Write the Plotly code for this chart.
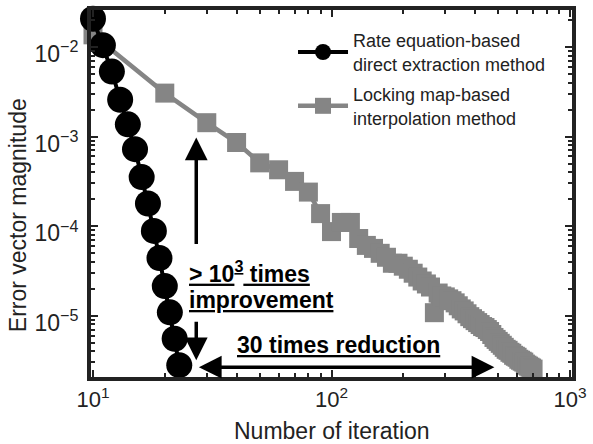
import plotly.graph_objects as go

# ---- data ----
iter_direct = [10, 11, 12, 13, 14, 15, 16, 17, 18, 19, 20, 21, 22, 23]
evm_direct = [2.07e-2, 1.05e-2, 5.32e-3, 2.58e-3, 1.37e-3, 7.24e-4, 3.53e-4,
              1.79e-4, 8.85e-5, 4.41e-5, 2.14e-5, 1.09e-5, 5.52e-6, 2.80e-6]

iter_interp = [10, 20, 30, 40, 50, 60, 70, 80, 90, 100,
               110, 120, 130, 140, 150, 160, 170, 180, 190, 200,
               210, 220, 230, 240, 250, 260, 270, 280, 290, 300,
               310, 320, 330, 340, 350, 360, 370, 380, 390, 400,
               410, 420, 430, 440, 450, 460, 470, 480, 490, 500,
               510, 520, 530, 540, 550, 560, 570, 580, 590, 600,
               610, 620, 630, 640, 650, 660, 670, 680, 690, 700]
evm_interp = [1.37e-2, 3.06e-3, 1.43e-3, 8.59e-4, 5.09e-4, 4.26e-4, 3.16e-4, 2.40e-4, 1.38e-4, 8.69e-5,
              1.10e-4, 1.10e-4, 7.28e-5, 6.09e-5, 5.64e-5, 4.97e-5, 4.49e-5, 3.85e-5, 3.85e-5, 3.57e-5,
              3.30e-5, 2.98e-5, 2.70e-5, 2.44e-5, 2.26e-5, 2.09e-5, 1.08e-5, 1.79e-5, 1.66e-5, 1.62e-5,
              1.54e-5, 1.47e-5, 1.39e-5, 1.29e-5, 1.19e-5, 1.13e-5, 1.05e-5, 9.75e-6, 9.26e-6, 8.80e-6,
              8.37e-6, 7.96e-6, 7.56e-6, 7.37e-6, 7.00e-6, 6.65e-6, 6.16e-6, 5.71e-6, 5.43e-6, 5.16e-6,
              4.91e-6, 4.67e-6, 4.43e-6, 4.21e-6, 4.10e-6, 3.90e-6, 3.80e-6, 3.61e-6, 3.52e-6, 3.43e-6,
              3.26e-6, 3.18e-6, 3.10e-6, 3.03e-6, 2.88e-6, 2.80e-6, 2.73e-6, 2.66e-6, 2.60e-6, 2.53e-6]

name_direct = "Rate equation-based<br>direct extraction method"
name_interp = "Locking map-based<br>interpolation method"

x_tickvals = [10, 100, 1000]
x_ticktext = ["10<sup>1</sup>", "10<sup>2</sup>", "10<sup>3</sup>"]
y_tickvals = [1e-5, 1e-4, 1e-3, 1e-2]
y_ticktext = ["10<sup>\u22125</sup>", "10<sup>\u22124</sup>", "10<sup>\u22123</sup>", "10<sup>\u22122</sup>"]
x_minor = [m * d for d in [1, 10, 100] for m in range(2, 10)]
y_minor = [m * d for d in [1e-6, 1e-5, 1e-4, 1e-3, 1e-2] for m in range(2, 10)]

FONT = "Arial, 'Liberation Sans', sans-serif"
TXT = "#222222"
GRAY = "#858585"

fig = go.Figure()
fig.add_trace(go.Scatter(
    x=iter_interp, y=evm_interp, name=name_interp, mode="lines+markers",
    line=dict(color=GRAY, width=4.5),
    marker=dict(symbol="square", size=19, color=GRAY),
    cliponaxis=False, legendrank=2, legendgroup="b"))
fig.add_trace(go.Scatter(
    x=iter_direct, y=evm_direct, name=name_direct, mode="lines+markers",
    line=dict(color="black", width=4),
    marker=dict(symbol="circle", size=26, color="black"),
    cliponaxis=False, legendrank=1, legendgroup="a"))

axis_common = dict(
    type="log", showline=True, linewidth=4, linecolor=TXT, mirror="ticks",
    ticks="inside", ticklen=7, tickwidth=2, tickcolor=TXT,
    showgrid=False, zeroline=False,
    tickmode="array",
)
fig.update_xaxes(**axis_common, range=[1 - 2 / 240, 3 + 2 / 240],
                 tickvals=x_tickvals, ticktext=x_ticktext,
                 tickfont=dict(family=FONT, size=22, color=TXT),
                 minor=dict(tickmode="array", tickvals=x_minor, ticks="inside",
                            ticklen=4, tickwidth=1.5, tickcolor=TXT, showgrid=False))
fig.update_yaxes(**axis_common, range=[-5.685, -1.586],
                 tickvals=y_tickvals, ticktext=y_ticktext,
                 tickfont=dict(family=FONT, size=23, color=TXT),
                 ticklabelshift=7, ticklabelstandoff=4,
                 minor=dict(tickmode="array", tickvals=y_minor, ticks="inside",
                            ticklen=4, tickwidth=1.5, tickcolor=TXT, showgrid=False))

ann = []
# axis titles
ann.append(dict(text="Error vector magnitude", xref="paper", yref="paper",
                x=-0.153, y=0.442, textangle=-90, showarrow=False,
                font=dict(family=FONT, size=23, color=TXT),
                xanchor="center", yanchor="middle"))
ann.append(dict(text="Number of iteration", xref="paper", yref="paper",
                x=0.5, y=-0.148, showarrow=False,
                font=dict(family=FONT, size=23, color=TXT),
                xanchor="center", yanchor="middle"))
# arrows
ann.append(dict(x=1.433, y=-3.011, xref="x", yref="y", text="", showarrow=True,
                ax=0, ay=108, arrowhead=2, arrowsize=1.3, arrowwidth=3.5, arrowcolor="black"))
ann.append(dict(x=1.433, y=-5.497, xref="x", yref="y", text="", showarrow=True,
                ax=0, ay=-40, arrowhead=2, arrowsize=1.3, arrowwidth=3.5, arrowcolor="black"))
ann.append(dict(x=2.683, y=-5.575, xref="x", yref="y", text="", showarrow=True,
                ax=-297, ay=0, arrowhead=2, startarrowhead=2, arrowside="end+start",
                arrowsize=1.3, startarrowsize=1.3, arrowwidth=3.5, arrowcolor="black"))
# labels
bold = dict(family=FONT, size=23, color="black")
ann.append(dict(x=1.396, y=-4.514, xref="x", yref="y", showarrow=False,
                text="<b><u>&gt; 10<sup>3</sup> times</u></b>", font=bold,
                xanchor="left", yanchor="middle"))
ann.append(dict(x=1.396, y=-4.823, xref="x", yref="y", showarrow=False,
                text="<b><u>improvement</u></b>", font=bold,
                xanchor="left", yanchor="middle"))
ann.append(dict(x=2.031, y=-5.331, xref="x", yref="y", showarrow=False,
                text="<b><u>30 times reduction</u></b>", font=bold,
                xanchor="center", yanchor="middle"))

fig.update_layout(
    width=593, height=444,
    margin=dict(l=91, r=18, t=6, b=67),
    paper_bgcolor="white", plot_bgcolor="white",
    font=dict(family=FONT, color=TXT),
    annotations=ann,
    legend=dict(x=0.42, y=0.967, xanchor="left", yanchor="top",
                bgcolor="rgba(0,0,0,0)", borderwidth=0,
                font=dict(family=FONT, size=18, color=TXT),
                itemwidth=50, tracegroupgap=4),
)

fig.write_html("out.html")
